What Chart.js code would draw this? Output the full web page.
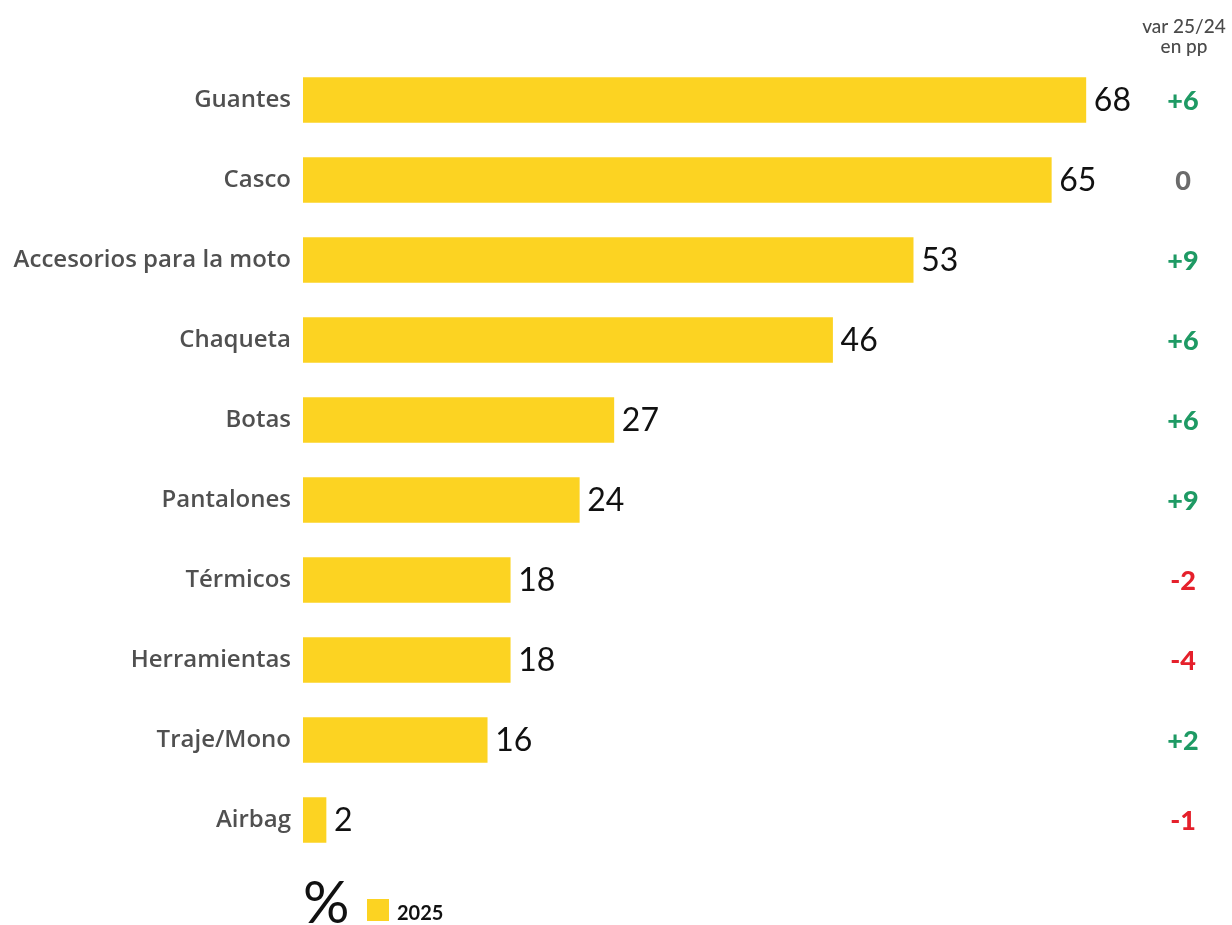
<!DOCTYPE html>
<html>
<head>
<meta charset="utf-8">
<script src="https://cdn.jsdelivr.net/npm/chart.js@4.4.0/dist/chart.umd.min.js"></script>
<style>
  html, body { margin: 0; padding: 0; background: #fff; }
  #wrap { width: 1232px; height: 925px; position: relative; }
</style>
</head>
<body>
<div id="wrap"><canvas id="c" width="1232" height="925"></canvas></div>
<script>
const categories = ["Guantes", "Casco", "Accesorios para la moto", "Chaqueta", "Botas", "Pantalones", "Térmicos", "Herramientas", "Traje/Mono", "Airbag"];
const values2025 = [68, 65, 53, 46, 27, 24, 18, 18, 16, 2];
const variation = ["+6", "0", "+9", "+6", "+6", "+9", "-2", "-4", "+2", "-1"];
const seriesLabel = "2025";
const varHeader = ["var 25/24", "en pp"];
const unitLabel = "%";

const FONT = "Lato, 'Open Sans', sans-serif";
const LABEL_FONT = "'Open Sans', Lato, sans-serif";
const YELLOW = "#fcd322";

function varColor(v) {
  if (v.startsWith("+")) return "#1e9a64";
  if (v.startsWith("-")) return "#e5202b";
  return "#6b6b6b";
}

const annot = {
  id: "annot",
  afterDatasetsDraw(chart) {
    const ctx = chart.ctx;
    const meta = chart.getDatasetMeta(0);
    const xs = chart.scales.x;
    ctx.save();
    ctx.textBaseline = "middle";
    meta.data.forEach((bar, i) => {
      const xEnd = xs.getPixelForValue(values2025[i]);
      ctx.fillStyle = "#111";
      ctx.font = "32px " + FONT;
      ctx.textAlign = "left";
      ctx.fillText(String(values2025[i]), xEnd + 8, bar.y + 1);
      ctx.fillStyle = varColor(variation[i]);
      ctx.font = "900 27px " + FONT;
      ctx.textAlign = "center";
      ctx.fillText(variation[i], 1183, bar.y + 1);
    });
    // header
    ctx.fillStyle = "#4a4a4a";
    ctx.font = "500 19px " + FONT;
    ctx.textAlign = "center";
    ctx.fillText(varHeader[0], 1184, 27);
    ctx.fillText(varHeader[1], 1184, 47);
    // legend
    const left = chart.chartArea.left;
    ctx.fillStyle = "#111";
    ctx.font = "58px " + FONT;
    ctx.textAlign = "left";
    ctx.textBaseline = "alphabetic";
    ctx.fillText(unitLabel, left, 923);
    ctx.fillStyle = YELLOW;
    ctx.fillRect(left + 64, 899, 22, 22);
    ctx.fillStyle = "#111";
    ctx.font = "bold 20px " + FONT;
    ctx.fillText(seriesLabel, left + 94, 920);
    ctx.restore();
  }
};

new Chart(document.getElementById("c"), {
  type: "bar",
  data: {
    labels: categories,
    datasets: [{
      label: seriesLabel,
      data: values2025,
      backgroundColor: YELLOW,
      borderWidth: 0,
      barThickness: 45
    }]
  },
  options: {
    indexAxis: "y",
    responsive: false,
    animation: false,
    layout: { padding: { top: 60, bottom: 65, right: 8, left: 0 } },
    plugins: { legend: { display: false }, tooltip: { enabled: false } },
    scales: {
      x: { display: false, min: 0, max: 80 },
      y: {
        grid: { display: false, drawTicks: false },
        border: { display: false },
        afterFit(scale) { scale.width = 303; },
        ticks: {
          padding: 12,
          color: "#505050",
          font: { family: LABEL_FONT, size: 24, weight: "600" }
        }
      }
    }
  },
  plugins: [annot]
});
</script>
</body>
</html>
